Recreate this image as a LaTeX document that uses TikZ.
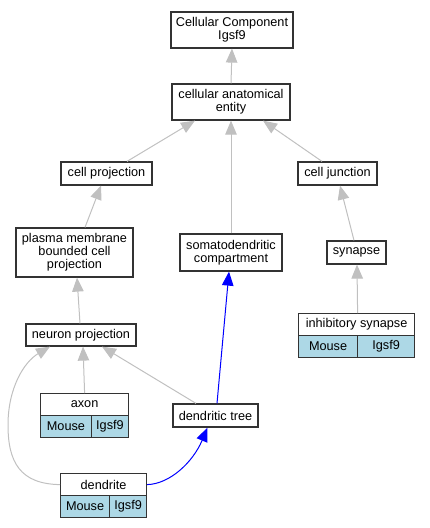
\documentclass[tikz,border=0pt]{standalone}
\usepackage{fontspec}
\setmainfont{Liberation Sans}
\usetikzlibrary{arrows.meta}
\definecolor{edgegray}{HTML}{C0C0C0}
\definecolor{cellblue}{HTML}{ADD8E6}
\definecolor{boxline}{HTML}{333333}
\tikzset{
  box/.style={draw=boxline, line width=1.2pt, fill=white, inner sep=0pt, align=center,
    font=\fontsize{12.7}{13}\selectfont},
  cellbox/.style={box, fill=cellblue},
  isa/.style={draw=edgegray, line width=1pt, -{Triangle[length=14pt,width=11.5pt,fill=edgegray]}},
  blueedge/.style={draw=blue, line width=1pt, -{Triangle[length=14pt,width=11.5pt,fill=blue]}},
}
\begin{document}
\begin{tikzpicture}[x=1pt,y=-1pt]
\useasboundingbox (0,0) rectangle (429,528);
% plain nodes
\node[box, minimum width=122pt, minimum height=36pt] (cc) at (232,30) {Cellular Component\\Igsf9};
\node[box, minimum width=118pt, minimum height=36pt] (cae) at (231,102) {cellular anatomical\\entity};
\node[box, minimum width=91pt, minimum height=23pt] (cp) at (106.5,173.5) {cell projection};
\node[box, minimum width=79pt, minimum height=23pt] (cj) at (337.5,173.5) {cell junction};
\node[box, minimum width=117pt, minimum height=49pt] (pm) at (74.5,252.5) {plasma membrane\\bounded cell\\projection};
\node[box, minimum width=102pt, minimum height=37pt] (sd) at (231,252.5) {somatodendritic\\compartment};
\node[box, minimum width=59pt, minimum height=23pt] (syn) at (356.5,252.5) {synapse};
\node[box, minimum width=110pt, minimum height=22pt] (np) at (81,335) {neuron projection};
\node[box, minimum width=85pt, minimum height=23pt] (dt) at (215.5,415.5) {dendritic tree};
% record nodes
\node[box, minimum width=116pt, minimum height=22pt, anchor=north west] (inh) at (298,313) {inhibitory synapse};
\node[cellbox, minimum width=59pt, minimum height=22pt, anchor=north west] (inhM) at (298,335) {Mouse};
\node[cellbox, minimum width=57pt, minimum height=22pt, anchor=north west] (inhI) at (357,335) {Igsf9};
\node[box, minimum width=88pt, minimum height=22pt, anchor=north west] (axon) at (40,393) {axon};
\node[cellbox, minimum width=50.7pt, minimum height=22pt, anchor=north west] (axonM) at (40,415) {Mouse};
\node[cellbox, minimum width=37.3pt, minimum height=22pt, anchor=north west] (axonI) at (90.7,415) {Igsf9};
\node[box, minimum width=86pt, minimum height=22pt, anchor=north west] (den) at (60,473) {dendrite};
\node[cellbox, minimum width=49pt, minimum height=22pt, anchor=north west] (denM) at (60,495) {Mouse};
\node[cellbox, minimum width=37pt, minimum height=22pt, anchor=north west] (denI) at (109,495) {Igsf9};
% edges
\draw[isa] (cae.north) -- (cc.south);
\draw[isa] ([xshift=20.5pt]cp.north) -- ([xshift=-36pt]cae.south);
\draw[isa] (sd.north) -- (cae.south);
\draw[isa] ([xshift=-15.5pt]cj.north) -- ([xshift=32pt]cae.south);
\draw[isa] ([xshift=10.5pt]pm.north) -- ([xshift=-5.5pt]cp.south);
\draw[isa] ([xshift=-2.5pt]syn.north) -- ([xshift=2.5pt]cj.south);
\draw[isa] ([xshift=1pt]inh.north) -- ([xshift=0.5pt]syn.south);
\draw[isa] ([xshift=-1pt]np.north) -- ([xshift=2.5pt]pm.south);
\draw[isa] (axon.north) -- ([xshift=2pt]np.south);
\draw[isa] ([xshift=-19.5pt]dt.north) -- ([xshift=21pt]np.south);
\draw[isa] (den.west) .. controls (20,484) and (8,462) .. (8,425)
   .. controls (8,388) and (24,362) .. ([xshift=-31pt]np.south);
\draw[blueedge] ([xshift=1.5pt]dt.north) -- ([xshift=-2pt]sd.south);
\draw[blueedge] (den.east) .. controls (170,484) and (193,462) .. ([xshift=-8pt]dt.south);
\end{tikzpicture}
\end{document}
